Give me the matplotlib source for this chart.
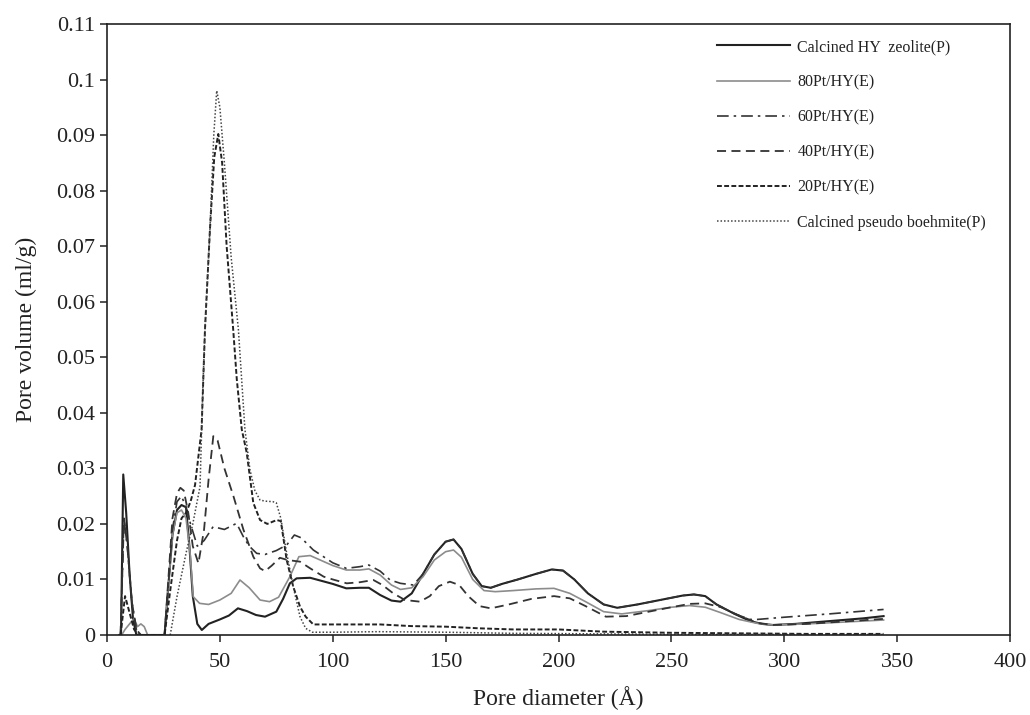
import matplotlib
matplotlib.use("Agg")
import matplotlib.pyplot as plt
from matplotlib.ticker import FuncFormatter, MultipleLocator

# pore size distributions (pore diameter in angstrom, pore volume in ml/g)
hy_x = [5.5, 6.2, 7.2, 8.5, 10, 11.5, 13, 20, 25.5, 27, 29, 31, 33, 35, 36.5, 38, 40, 42, 45, 50,
        54, 58, 62, 66, 70, 75, 78, 81, 84, 90, 100, 106, 112, 116, 121, 126, 130, 135, 140, 145,
        150, 153.5, 157, 162, 166, 170, 175, 182, 190, 197, 202, 207, 213, 220, 226, 235, 245, 255,
        260, 265, 270, 278, 285, 290, 295, 305, 320, 335, 344]
hy_y = [0, 0, 0.0289, 0.022, 0.011, 0.003, 0, 0, 0, 0.008, 0.018, 0.0225, 0.0234, 0.023, 0.016,
        0.007, 0.002, 0.0009, 0.002, 0.0028, 0.0035, 0.0048, 0.0043, 0.0036, 0.0033, 0.0042,
        0.0065, 0.0093, 0.0102, 0.0103, 0.0092, 0.0084, 0.0085, 0.0085, 0.0072, 0.0062, 0.006,
        0.0075, 0.011, 0.0145, 0.0168, 0.0172, 0.0155, 0.011, 0.0088, 0.0085, 0.0092, 0.0100,
        0.0110, 0.0118, 0.0116, 0.0100, 0.0075, 0.0055, 0.0049, 0.0055, 0.0063, 0.0071, 0.0073,
        0.0070, 0.0055, 0.0038, 0.0025, 0.0020, 0.0018, 0.0020, 0.0025, 0.0030, 0.0034]

pt80_x = [6.5, 8, 10, 12, 13.5, 15, 16.5, 18, 25.5, 27, 29, 31, 33, 35, 36.8, 38.2, 41, 45, 50, 55,
          58.9, 63, 67.8, 72, 76, 81, 85, 90, 100, 106, 112, 116, 121, 126, 130, 135, 140, 145,
          150, 153.5, 157, 162, 167, 172, 180, 190, 198, 205, 212, 220, 228, 240, 250, 258, 265,
          272, 280, 288, 295, 310, 325, 344]
pt80_y = [0, 0.001, 0.002, 0.003, 0.0015, 0.002, 0.0015, 0, 0, 0.008, 0.018, 0.022, 0.0225, 0.021,
          0.0148, 0.0069, 0.0057, 0.0055, 0.0063, 0.0075, 0.0099, 0.0085, 0.0063, 0.006, 0.0068,
          0.0105, 0.0141, 0.0143, 0.0125, 0.0117, 0.0117, 0.0119, 0.0108, 0.0090, 0.0082, 0.0085,
          0.0105, 0.0135, 0.0150, 0.0153, 0.0140, 0.0100, 0.0080, 0.0078, 0.0080, 0.0083, 0.0084,
          0.0075, 0.0060, 0.0042, 0.0038, 0.0044, 0.0050, 0.0053, 0.0050, 0.0040, 0.0028, 0.0021,
          0.0018, 0.0020, 0.0023, 0.0027]

pt60_x = [6, 7.5, 9, 11, 13, 15, 25.5, 27, 29, 31, 33, 35, 37, 40, 43, 47, 52, 57.4, 60.4, 63,
          66.3, 70, 75, 79.6, 83, 86, 91.4, 100, 106, 112, 116, 121, 125.4, 130, 135.7, 140, 145,
          150, 153.5, 157, 162, 166, 170, 175, 182, 190, 197, 202, 207, 213, 220, 226, 235, 245,
          255, 260, 265, 270, 278, 285, 288, 300, 320, 344]
pt60_y = [0, 0.021, 0.016, 0.006, 0.001, 0, 0, 0.008, 0.019, 0.024, 0.025, 0.023, 0.020, 0.016,
          0.017, 0.0195, 0.019, 0.0201, 0.0177, 0.016, 0.0147, 0.0145, 0.0152, 0.0162, 0.018,
          0.0175, 0.0153, 0.013, 0.012, 0.0123, 0.0126, 0.0115, 0.0099, 0.0093, 0.009, 0.011,
          0.0145, 0.0168, 0.0172, 0.0155, 0.011, 0.0088, 0.0085, 0.0092, 0.0100, 0.0110, 0.0118,
          0.0116, 0.0100, 0.0075, 0.0055, 0.0049, 0.0055, 0.0063, 0.0071, 0.0073, 0.0070, 0.0055,
          0.0038, 0.0028, 0.0028, 0.0032, 0.0038, 0.0046]

pt40_x = [6, 7.5, 9, 11, 13, 15, 25.5, 27, 29, 31, 32.5, 34, 36, 38, 40.5, 43, 45, 47.1, 49, 52,
          56, 60.4, 64.8, 67.8, 70, 73, 76.6, 80, 85.5, 90, 96, 100, 106.2, 112, 118, 122, 126.8,
          132, 138.6, 143, 147, 151.9, 156, 160, 165, 170, 178, 188, 198, 205, 212, 221, 230, 240,
          250, 258, 265, 272, 280, 288, 295, 310, 325, 344]
pt40_y = [0, 0.021, 0.016, 0.006, 0.001, 0, 0, 0.009, 0.021, 0.0255, 0.0265, 0.026, 0.022, 0.016,
          0.0129, 0.019, 0.028, 0.0358, 0.035, 0.030, 0.025, 0.019, 0.0141, 0.012, 0.0115, 0.0125,
          0.0139, 0.0135, 0.0132, 0.012, 0.0105, 0.0100, 0.0093, 0.0095, 0.0099, 0.0090, 0.0075,
          0.0063, 0.0060, 0.0070, 0.0088, 0.0096, 0.0090, 0.0070, 0.0052, 0.0048, 0.0055, 0.0065,
          0.0070, 0.0066, 0.0052, 0.0033, 0.0034, 0.0042, 0.0050, 0.0056, 0.0057, 0.0050, 0.0035,
          0.0022, 0.0018, 0.0020, 0.0024, 0.0029]

pt20_x = [6, 8, 10, 12, 14, 25.5, 28, 31, 33, 35, 37, 39, 41.9, 43.4, 45.6, 47.5, 49.3, 51, 53,
          55.9, 57.5, 59.7, 61.9, 64.8, 67.8, 71, 75.2, 77, 79.6, 82.5, 85.5, 88, 91.4, 100, 110,
          121, 135, 150, 165, 180, 200, 220, 250, 280, 310, 344]
pt20_y = [0, 0.007, 0.004, 0.001, 0, 0, 0.008, 0.017, 0.021, 0.022, 0.024, 0.027, 0.037, 0.055,
          0.073, 0.086, 0.0902, 0.085, 0.070, 0.055, 0.046, 0.037, 0.0328, 0.0238, 0.0207, 0.020,
          0.0207, 0.0205, 0.0135, 0.0087, 0.0051, 0.0033, 0.0019, 0.0019, 0.0019, 0.0019, 0.0016,
          0.0015, 0.0012, 0.0010, 0.0010, 0.0006, 0.0004, 0.0003, 0.0002, 0.0002]

pb_x = [28, 31, 35, 38, 41.2, 42.5, 43.4, 45.6, 47.3, 48.6, 50, 52, 55, 58.2, 61.1, 63.3, 65.5,
        67.8, 70, 73.5, 75, 77, 79.6, 82.5, 85.5, 88, 91, 100, 120, 150, 180, 220, 260, 300, 344]
pb_y = [0, 0.0069, 0.0147, 0.020, 0.0267, 0.045, 0.055, 0.073, 0.090, 0.098, 0.095, 0.085, 0.068,
        0.055, 0.037, 0.0298, 0.026, 0.0243, 0.0241, 0.024, 0.0238, 0.021, 0.0147, 0.0087, 0.0033,
        0.0012, 0.0005, 0.0005, 0.0006, 0.0005, 0.0003, 0.0002, 0.0001, 0.0001, 0.0001]

labels = ["Calcined HY  zeolite(P)", "80Pt/HY(E)", "60Pt/HY(E)", "40Pt/HY(E)", "20Pt/HY(E)",
          "Calcined pseudo boehmite(P)"]

plt.rcParams["font.family"] = ["Liberation Serif", "DejaVu Serif"]

fig = plt.figure(figsize=(10.3, 7.15), dpi=100)
ax = fig.add_axes([107 / 1030, 80 / 715, 903 / 1030, 611 / 715])

ax.plot(hy_x, hy_y, color="#222222", lw=1.5, ls="-", label=labels[0])
ax.plot(pt80_x, pt80_y, color="#8c8c8c", lw=1.2, ls="-", label=labels[1])
ax.plot(pt60_x, pt60_y, color="#333333", lw=1.2, ls=(0, (7, 3, 1.5, 3)), label=labels[2])
ax.plot(pt40_x, pt40_y, color="#333333", lw=1.3, ls=(0, (5, 3)), label=labels[3])
ax.plot(pt20_x, pt20_y, color="#222222", lw=1.4, ls=(0, (2.5, 1.2)), label=labels[4])
ax.plot(pb_x, pb_y, color="#444444", lw=1.1, ls=(0, (1, 1.3)), label=labels[5])

ax.set_xlim(0, 400)
ax.set_ylim(0, 0.11)
ax.xaxis.set_major_locator(MultipleLocator(50))
ax.yaxis.set_major_locator(MultipleLocator(0.01))
ax.yaxis.set_major_formatter(FuncFormatter(lambda v, p: f"{round(v, 3):g}"))

ax.tick_params(direction="out", length=5, width=1.1, labelsize=16, colors="#222222",
               top=False, right=False)
ax.tick_params(axis="x", pad=8)
for s in ax.spines.values():
    s.set_linewidth(1.2)
    s.set_color("#222222")

ax.set_xlabel("Pore diameter (Å)", fontsize=17, color="#222222", labelpad=10)
ax.set_ylabel("Pore volume (ml/g)", fontsize=17, color="#222222", labelpad=14)

ax.legend(loc="upper right", bbox_to_anchor=(986 / 1030, 1 - 39 / 715),
          bbox_transform=fig.transFigure, frameon=False, fontsize=11.5,
          handlelength=4.6, handletextpad=0.45, labelspacing=1.2,
          borderpad=0, borderaxespad=0, labelcolor="#222222")

plt.savefig("out.png", dpi=100)
